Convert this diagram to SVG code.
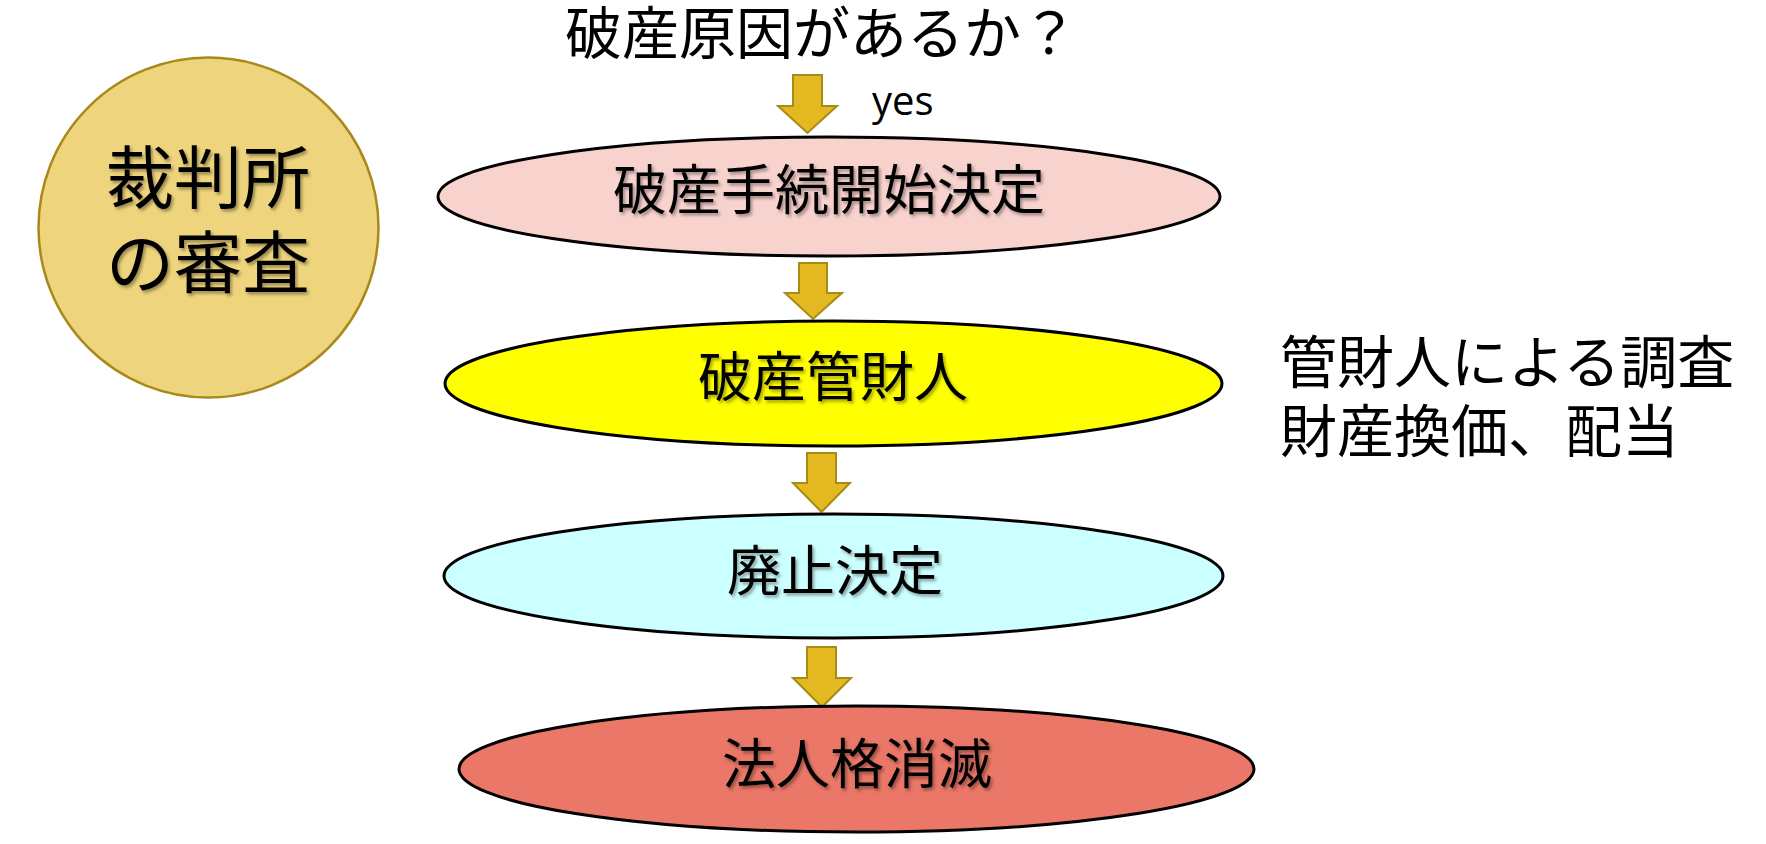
<svg xmlns="http://www.w3.org/2000/svg" width="1766" height="844" viewBox="0 0 1766 844">
  <defs>
    <filter id="tshadow" x="-10%" y="-20%" width="120%" height="150%">
      <feDropShadow dx="2" dy="2.5" stdDeviation="1.5" flood-color="#000" flood-opacity="0.35"/>
    </filter>
  </defs>
  <style>
    .jp { font-family: "Noto Sans CJK JP", "Noto Sans", sans-serif; fill: #000; }
    .lbl { font-size: 54px; text-anchor: middle; filter: url(#tshadow); }
    .node { stroke: #000; stroke-width: 3; }
    .arrow { fill: #E4B820; stroke: #A88B14; stroke-width: 2; stroke-linejoin: miter; }
  </style>
  <rect width="1766" height="844" fill="#fff"/>

  <g id="court">
    <circle cx="208.5" cy="227.5" r="170" fill="#EED47C" stroke="#A8891A" stroke-width="2.5"/>
    <text class="jp" x="208" y="203" font-size="68" text-anchor="middle" filter="url(#tshadow)">裁判所</text>
    <text class="jp" x="208" y="288" font-size="68" text-anchor="middle" filter="url(#tshadow)">の審査</text>
  </g>

  <g id="question">
    <text class="jp" x="565" y="54" font-size="57">破産原因があるか？</text>
  </g>

  <g id="connectors">
    <path class="arrow" d="M793,75 H822 V106 H837 L807.5,133 L778,106 H793 Z"/>
    <text x="872" y="115" font-family="'Open Sans', 'Liberation Sans', sans-serif" font-size="40" fill="#000">yes</text>
    <path class="arrow" d="M799,263 H827 V293 H842 L813,319 L785,293 H799 Z"/>
    <path class="arrow" d="M807,453 H836 V483 H850 L821.5,512 L793,483 H807 Z"/>
    <path class="arrow" d="M807,647 H836 V678 H851 L822,707 L793,678 H807 Z"/>
  </g>

  <g id="start">
    <ellipse class="node" cx="829" cy="196.5" rx="391" ry="59.5" fill="#F8D2CD"/>
    <text class="jp lbl" x="829" y="210">破産手続開始決定</text>
  </g>

  <g id="trustee">
    <ellipse class="node" cx="833.5" cy="383.5" rx="388.5" ry="62.5" fill="#FFFF00"/>
    <text class="jp lbl" x="833" y="397">破産管財人</text>
  </g>

  <g id="note">
    <text class="jp" x="1280" y="383" font-size="57">管財人による調査</text>
    <text class="jp" x="1280" y="452" font-size="57">財産換価、配当</text>
  </g>

  <g id="abolish">
    <ellipse class="node" cx="833.5" cy="576" rx="389.5" ry="62" fill="#CCFFFF"/>
    <text class="jp lbl" x="835" y="591">廃止決定</text>
  </g>

  <g id="extinct">
    <ellipse class="node" cx="856.5" cy="769" rx="397.5" ry="63" fill="#EA7767"/>
    <text class="jp lbl" x="857" y="784">法人格消滅</text>
  </g>
</svg>
